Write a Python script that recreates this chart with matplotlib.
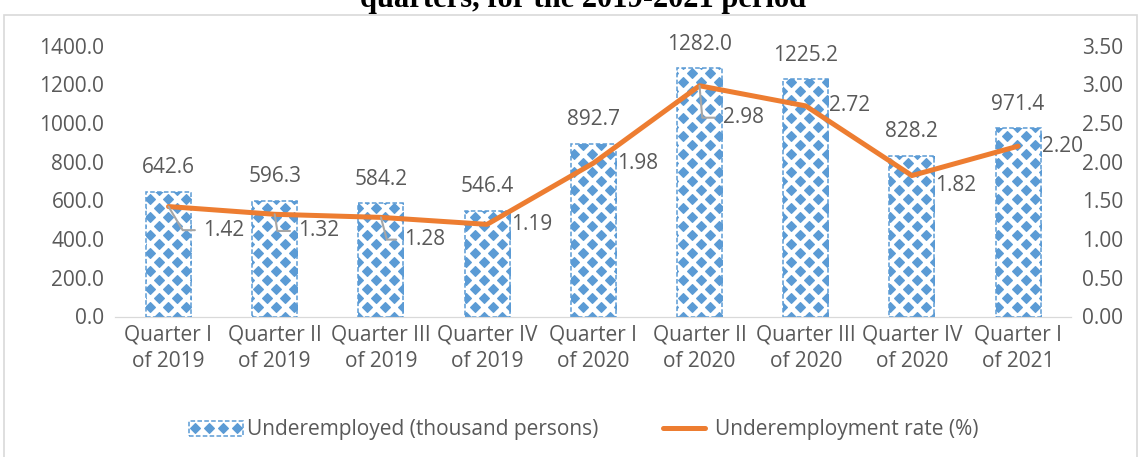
import matplotlib.pyplot as plt
from matplotlib.patches import Rectangle, Patch
from matplotlib.lines import Line2D
import numpy as np

quarters = ["Quarter I\nof 2019", "Quarter II\nof 2019", "Quarter III\nof 2019",
            "Quarter IV\nof 2019", "Quarter I\nof 2020", "Quarter II\nof 2020",
            "Quarter III\nof 2020", "Quarter IV\nof 2020", "Quarter I\nof 2021"]
underemployed = [642.6, 596.3, 584.2, 546.4, 892.7, 1282.0, 1225.2, 828.2, 971.4]
rate = [1.42, 1.32, 1.28, 1.19, 1.98, 2.98, 2.72, 1.82, 2.20]

blue = "#5B9BD5"
orange = "#ED7D31"
txt = "#595959"
fs = 15

plt.rcParams['font.family'] = ['Open Sans', 'DejaVu Sans']

fig = plt.figure(figsize=(11.4, 4.57), dpi=100)

# outer chart border
fig.patches.append(Rectangle((4 / 1140, -0.01), 1133 / 1140, 1 - 15 / 457 + 0.01,
                             transform=fig.transFigure, fill=False,
                             edgecolor="#d9d9d9", linewidth=1.2))

# title, top half cut off like in the source
fig.text(583 / 1140, 1 - 7 / 457, "quarters, for the 2019-2021 period",
         ha='center', va='baseline', fontsize=22, fontweight='bold',
         family='Liberation Serif')

ax = fig.add_axes([115.4 / 1140, 1 - 316.5 / 457, 955.8 / 1140, 271 / 457])
ax2 = ax.twinx()

x = np.arange(len(quarters))
bw = 0.424
ax.set_xlim(-0.5, len(quarters) - 0.5)
ax.set_ylim(0, 1400)

# diamond pattern lattice (in data units, ~18 px period)
dx, dy = 0.17, 93.0
msize = 5.0
gx, gy = np.meshgrid(np.arange(-0.6, 8.7, dx), np.arange(0, 1450, dy))
px = np.concatenate([gx.ravel(), gx.ravel() + dx / 2])
py = np.concatenate([gy.ravel(), gy.ravel() + dy / 2])

bars = ax.bar(x, underemployed, width=bw, color='white', linewidth=0, zorder=1.5)
for b in bars:
    x0, x1 = b.get_x(), b.get_x() + b.get_width()
    m = (px > x0 - dx) & (px < x1 + dx) & (py < b.get_height() + dy)
    pts, = ax.plot(px[m], py[m], linestyle='none', marker='D', markersize=msize,
                   color=blue, markeredgewidth=0.8, markeredgecolor=blue,
                   markerfacecolor=blue, zorder=2)
    pts.set_clip_path(b)
ax.bar(x, underemployed, width=bw, fill=False, edgecolor=blue,
       linestyle=(0, (3, 1.5)), linewidth=1.1, zorder=3)

for xi, v in zip(x, underemployed):
    ax.annotate(f"{v:.1f}", xy=(xi, v), xytext=(0, 13.5), textcoords='offset points',
                ha='center', va='baseline', fontsize=fs, color=txt)

ax.set_yticks(np.arange(0, 1401, 200))
ax.set_yticklabels([f"{v:.1f}" for v in np.arange(0, 1401, 200)])
ax.set_xticks(x)
ax.set_xticklabels(quarters, linespacing=1.35)
ax.tick_params(axis='both', length=0, labelsize=fs, colors=txt, pad=8)
ax.tick_params(axis='x', pad=6)

ax2.plot(x, rate, color=orange, linewidth=3.6, solid_capstyle='round',
         solid_joinstyle='round', zorder=5)
ax2.set_ylim(0, 3.5)
ax2.set_yticks(np.arange(0, 3.51, 0.5))
ax2.set_yticklabels([f"{v:.2f}" for v in np.arange(0, 3.51, 0.5)])
ax2.tick_params(axis='y', length=0, labelsize=fs, colors=txt, pad=8)

# rate labels: offsets in points, leader angle (None = no leader)
offsets = [(25, -17), (17, -12), (17, -16), (17, 0), (17, 0),
           (17, -23), (17, 0), (17, -7), (17, 0)]
leaders = [-59, -81, -75, None, None, -85, None, None, None]
for xi, r, off, lead in zip(x, rate, offsets, leaders):
    ap = None
    if lead is not None:
        ap = dict(arrowstyle='-', color='#a6a6a6', lw=1.5,
                  connectionstyle=f'angle,angleA=0,angleB={lead},rad=0',
                  shrinkA=4, shrinkB=0)
    ax2.annotate(f"{r:.2f}", xy=(xi, r), xytext=off, textcoords='offset points',
                 ha='left', va='center', fontsize=fs, color=txt,
                 arrowprops=ap, zorder=6)

for a in (ax, ax2):
    for s in ('top', 'left', 'right'):
        a.spines[s].set_visible(False)
    a.spines['bottom'].set_color('#d9d9d9')

# legend
bar_handle = (Patch(facecolor='white', edgecolor=blue, linestyle=(0, (3, 1.5)), linewidth=1.1),
              Line2D([], [], linestyle='none', marker='D', markersize=msize, color=blue,
                     markeredgewidth=0.8))
line_handle = Line2D([0], [0], color=orange, linewidth=3.6, solid_capstyle='round')
fig.legend([bar_handle, line_handle],
           ["Underemployed (thousand persons)", "Underemployment rate (%)"],
           loc='center', bbox_to_anchor=(584 / 1140, 1 - 430 / 457), ncol=2,
           frameon=False, fontsize=fs, labelcolor=txt, handlelength=2.6,
           handletextpad=0.2, columnspacing=2.8, numpoints=4)

fig.savefig("out.png", dpi=100)
